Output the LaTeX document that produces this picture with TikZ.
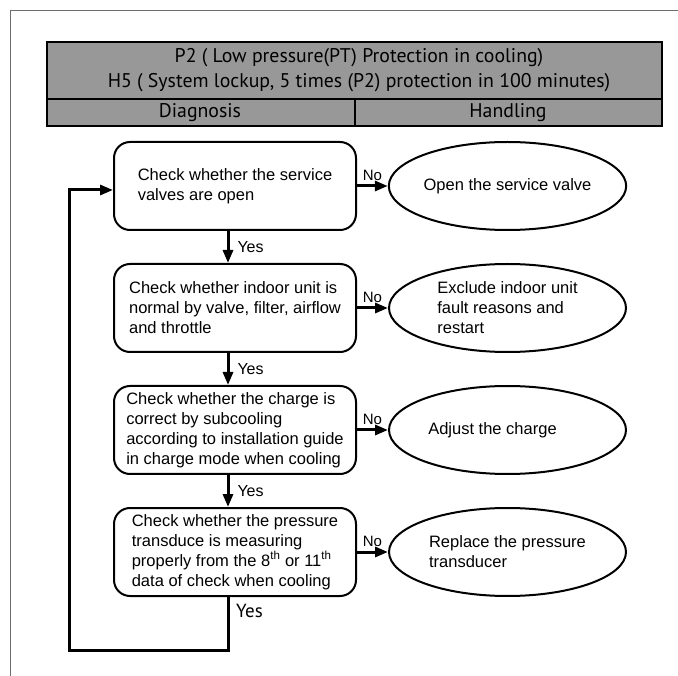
\documentclass[tikz,border=0pt]{standalone}
\usepackage{fontspec}
\setmainfont{Liberation Sans}
\newfontfamily\hdrfont{PT Sans}
\usetikzlibrary{arrows.meta,shapes.geometric}
\definecolor{hdrgray}{RGB}{152,152,152}
\definecolor{framegray}{RGB}{110,110,110}
\tikzset{
  chk/.style={draw=black, line width=2pt, rounded corners=16pt, minimum width=242pt, minimum height=88pt, inner sep=2pt, align=left, font=\fontsize{16.5}{20}\selectfont},
  act/.style={draw=black, line width=2pt, ellipse, minimum width=237pt, minimum height=88pt, inner sep=0pt, align=left, font=\fontsize{16.5}{20}\selectfont},
  conn/.style={line width=3pt, -{Triangle[length=13pt,width=10pt]}},
  yeslbl/.style={anchor=west, inner sep=0pt, font=\fontsize{16}{18}\selectfont},
  nolbl/.style={anchor=center, inner sep=0pt, font=\fontsize{15}{16}\selectfont},
  hdrtxt/.style={inner sep=0pt, font=\hdrfont\fontsize{19.8}{25}\selectfont, align=center}
}
\begin{document}
\begin{tikzpicture}[x=1pt,y=-1pt]
\useasboundingbox (0,0) rectangle (678,676);
% frame
\draw[framegray, line width=1.5pt] (10.5,676) -- (10.5,10.5) -- (678,10.5);
% header
\draw[fill=hdrgray, line width=2pt] (46.5,42) rectangle (662,126.5);
\draw[line width=2pt] (46.5,99.5) -- (662,99.5);
\draw[line width=2pt] (355,99.5) -- (355,126.5);
\node[hdrtxt] (title) at (359,70) {P2 ( Low pressure(PT) Protection in cooling)\\H5 ( System lockup, 5 times (P2) protection in 100 minutes)};
\node[hdrtxt] (diag) at (200,113) {Diagnosis};
\node[hdrtxt] (hand) at (508,113) {Handling};
% checks
\node[chk] (c1) at (235,186) {Check whether the service\\valves are open};
\node[chk] (c2) at (235,308) {Check whether indoor unit is\\normal by valve, filter, airflow\\and throttle};
\node[chk] (c3) at (235,430) {Check whether the charge is\\correct by subcooling\\according to installation guide\\in charge mode when cooling};
\node[chk] (c4) at (235,552) {Check whether the pressure\\transduce is measuring\\properly from the 8\textsuperscript{th} or 11\textsuperscript{th}\\data of check when cooling};
% actions
\node[act] (e1) at (507.5,186) {Open the service valve};
\node[act] (e2) at (507.5,308) {Exclude indoor unit\\fault reasons and\\restart};
\node[act] (e3) at (507.5,430) {\hspace*{-30pt}Adjust the charge};
\node[act] (e4) at (507.5,552) {Replace the pressure\\transducer};
% yes arrows
\draw[conn] ([xshift=-7pt]c1.south) -- node[yeslbl, xshift=8pt]{Yes} ([xshift=-7pt]c2.north);
\draw[conn] ([xshift=-7pt]c2.south) -- node[yeslbl, xshift=8pt]{Yes} ([xshift=-7pt]c3.north);
\draw[conn] ([xshift=-7pt]c3.south) -- node[yeslbl, xshift=8pt]{Yes} ([xshift=-7pt]c4.north);
% no arrows
\draw[conn] (c1.east) -- node[nolbl, above=4pt]{No} (e1.west);
\draw[conn] (c2.east) -- node[nolbl, above=4pt]{No} (e2.west);
\draw[conn] (c3.east) -- node[nolbl, above=4pt]{No} (e3.west);
\draw[conn] (c4.east) -- node[nolbl, above=4pt]{No} (e4.west);
% loop back
\coordinate (b1) at (228,650);
\coordinate (b2) at (69,650);
\coordinate (b3) at (69,190);
\draw[conn, line join=miter] ([xshift=-7pt]c4.south) -- (b1) -- (b2) -- (b3) -- (b3 -| c1.west);
\node[yeslbl, font=\hdrfont\fontsize{19}{20}\selectfont] (ylast) at (236,611) {Yes};
\end{tikzpicture}
\end{document}
